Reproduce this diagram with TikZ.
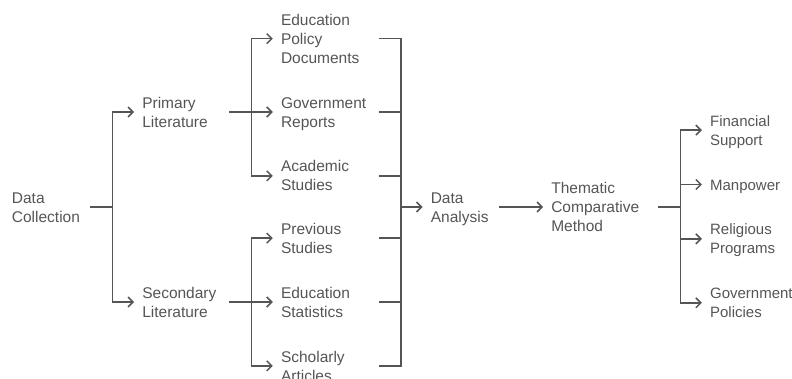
\documentclass[tikz,border=0pt]{standalone}
\usepackage{fontspec}
\setmainfont{Liberation Sans}
\usetikzlibrary{arrows.meta, positioning}
\definecolor{ink}{RGB}{85,85,85}
\newcommand\topfix{\rule{0pt}{14.6pt}}
\newcommand\botfix{\rule[-3.4pt]{0pt}{3.4pt}}

\begin{document}
\begin{tikzpicture}[x=1pt, y=-1pt]

\tikzstyle{item}=[inner sep=0pt, text=ink, align=left, font=\fontsize{15.5}{19}\selectfont,
  execute at begin node=\topfix, execute at end node=\botfix]
\tikzstyle{result}=[item, text width=82pt, font=\fontsize{15}{19}\selectfont]
\tikzstyle{link}=[draw=ink, line width=1.5pt]
\tikzstyle{into}=[link, -{Straight Barb[length=5pt, width=10pt]}, shorten >=8pt]

\useasboundingbox (0,0) rectangle (792,379);

\node[item, text width=78.3pt, anchor=west] (coll) at (11.7,207) {Data\\Collection};
\node[item, text width=86.6pt, right=51.7pt of coll, yshift=95pt] (prim) {Primary\\Literature};
\node[item, text width=86.6pt, right=51.7pt of coll, yshift=-95pt] (sec) {Secondary\\Literature};

\node[item, text width=97.7pt, right=51.7pt of prim] (rep) {Government\\Reports};
\node[item, text width=97.7pt, above=26.5pt of rep] (pol) {Education\\Policy\\Documents};
\node[item, text width=97.7pt, below=26.5pt of rep] (aca) {Academic\\Studies};
\node[item, text width=97.7pt, right=51.7pt of sec] (stat) {Education\\Statistics};
\node[item, text width=97.7pt, above=26.5pt of stat] (prev) {Previous\\Studies};
\node[item, text width=97.7pt, below=26.5pt of stat] (sch) {Scholarly\\Articles};

\path (rep.east |- coll) ++(22.3pt,0) coordinate (j4);
\node[item, text width=68.4pt, right=29.4pt of j4] (ana) {Data\\Analysis};
\node[item, text width=106.7pt, right=51.7pt of ana] (them) {Thematic\\Comparative\\Method};

\node[result, right=51.7pt of them, yshift=22.5pt] (man) {Manpower};
\node[result, above=26.5pt of man] (fin) {Financial\\Support};
\node[result, below=26.5pt of man] (rel) {Religious\\Programs};
\node[result, below=26.5pt of rel] (gov) {Government\\Policies};

\coordinate[right=22.3pt of coll] (j1);
\coordinate[right=22.3pt of prim] (j2);
\coordinate[right=22.3pt of sec] (j3);
\coordinate[right=22.3pt of them] (j5);

\draw[link] (coll.east) -- (j1);
\draw[into] (j1) |- (prim.west);
\draw[into] (j1) |- (sec.west);

\draw[link] (prim.east) -- (j2);
\draw[into] (j2) |- (pol.west);
\draw[into] (j2) |- (rep.west);
\draw[into] (j2) |- (aca.west);

\draw[link] (sec.east) -- (j3);
\draw[into] (j3) |- (prev.west);
\draw[into] (j3) |- (stat.west);
\draw[into] (j3) |- (sch.west);

\draw[link] (pol.east) -| (j4);
\draw[link] (rep.east) -| (j4);
\draw[link] (aca.east) -| (j4);
\draw[link] (prev.east) -| (j4);
\draw[link] (stat.east) -| (j4);
\draw[link] (sch.east) -| (j4);
\draw[into] (j4) -- (ana.west);

\draw[into] (ana.east) -- (them.west);

\draw[link] (them.east) -- (j5);
\draw[into] (j5) |- (fin.west);
\draw[into] (j5) |- (man.west);
\draw[into] (j5) |- (rel.west);
\draw[into] (j5) |- (gov.west);

\end{tikzpicture}
\end{document}
